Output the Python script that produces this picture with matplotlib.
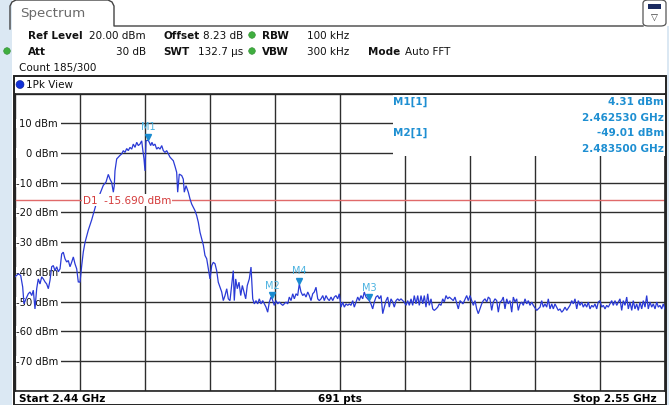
import matplotlib
matplotlib.use("Agg")
import matplotlib.pyplot as plt
from matplotlib.patches import Rectangle, FancyBboxPatch, Ellipse
from matplotlib.transforms import ScaledTranslation
import numpy as np

# ---------------- data ----------------
freq_mhz = [
    2440.00, 2440.56, 2440.96, 2441.30, 2441.52, 2441.86, 2442.25, 2442.54, 2442.83, 2443.10,
    2443.38, 2443.67, 2443.94, 2444.23, 2444.52, 2444.79, 2445.08, 2445.36, 2445.64, 2445.92,
    2446.21, 2446.48, 2446.77, 2447.06, 2447.33, 2447.62, 2447.90, 2448.17, 2448.46, 2448.75,
    2449.02, 2449.31, 2449.60, 2449.87, 2450.15, 2450.44, 2450.71, 2451.00, 2451.29, 2451.56,
    2451.85, 2452.40, 2452.98, 2453.54, 2453.83, 2454.38, 2454.67, 2454.94, 2455.40, 2455.79,
    2456.08, 2456.36, 2456.64, 2456.80, 2456.92, 2457.21, 2457.48, 2457.77, 2458.06, 2458.33,
    2458.62, 2458.90, 2459.17, 2459.46, 2459.75, 2460.02, 2460.31, 2460.60, 2460.87, 2461.15,
    2461.44, 2461.61, 2461.83, 2462.00, 2462.17, 2462.53, 2462.73, 2462.96, 2463.18, 2463.40,
    2463.69, 2463.98, 2464.25, 2464.54, 2464.83, 2465.10, 2465.38, 2465.67, 2465.94, 2466.23,
    2466.52, 2466.79, 2467.08, 2467.36, 2467.53, 2467.80, 2468.21, 2468.48, 2468.65, 2468.94,
    2469.33, 2469.62, 2469.90, 2470.17, 2470.46, 2470.75, 2471.02, 2471.31, 2471.87, 2472.15,
    2472.44, 2473.00, 2473.29, 2473.56, 2473.85, 2474.13, 2474.40, 2474.69, 2474.98, 2475.25,
    2475.54, 2475.83, 2476.10, 2476.38, 2476.67, 2476.94, 2477.11, 2477.35, 2477.62, 2477.91,
    2478.20, 2478.47, 2478.75, 2479.04, 2479.31, 2479.65, 2479.94, 2480.23, 2480.50, 2480.78,
    2481.07, 2481.34, 2481.63, 2481.92, 2482.19, 2482.48, 2482.76, 2483.04, 2483.32, 2483.50,
    2483.88, 2484.17, 2484.46, 2484.73, 2485.02, 2485.31, 2485.57, 2485.86, 2486.15, 2486.42,
    2486.71, 2487.00, 2487.27, 2487.56, 2487.84, 2488.11, 2488.40, 2488.69, 2488.96, 2489.25,
    2489.54, 2489.81, 2490.09, 2490.38, 2490.65, 2490.94, 2491.23, 2491.50, 2491.79, 2492.08,
    2492.35, 2492.63, 2492.92, 2493.19, 2493.48, 2493.77, 2494.04, 2494.32, 2494.61, 2494.88,
    2495.17, 2495.46, 2495.73, 2496.02, 2496.31, 2496.58, 2496.86, 2497.15, 2497.42, 2497.71,
    2498.00, 2498.27, 2498.55, 2498.84, 2499.11, 2499.40, 2499.69, 2499.96, 2500.24, 2500.53,
    2500.80, 2501.09, 2501.38, 2501.65, 2501.94, 2502.23, 2502.50, 2502.79, 2503.07, 2503.34,
    2503.63, 2503.92, 2504.19, 2504.48, 2504.76, 2505.03, 2505.32, 2505.61, 2505.88, 2506.17,
    2506.45, 2506.73, 2507.02, 2507.30, 2507.57, 2507.86, 2508.15, 2508.42, 2508.71, 2509.00,
    2509.27, 2509.55, 2509.84, 2510.11, 2510.40, 2510.69, 2510.96, 2511.25, 2511.53, 2511.80,
    2512.09, 2512.38, 2512.65, 2512.94, 2513.23, 2513.50, 2514.17, 2514.46, 2515.02, 2515.31,
    2515.81, 2516.44, 2516.71, 2517.00, 2517.29, 2517.56, 2517.85, 2518.13, 2518.40, 2518.69,
    2518.98, 2519.25, 2519.54, 2519.83, 2520.10, 2520.38, 2520.67, 2520.94, 2521.23, 2521.52,
    2521.79, 2522.08, 2522.37, 2522.63, 2522.92, 2523.21, 2523.48, 2523.77, 2524.06, 2524.33,
    2524.62, 2524.90, 2525.17, 2525.46, 2525.75, 2526.02, 2526.31, 2526.60, 2526.87, 2527.15,
    2527.44, 2527.71, 2528.29, 2528.85, 2529.13, 2529.40, 2529.69, 2529.98, 2530.25, 2530.54,
    2530.83, 2531.10, 2531.38, 2531.67, 2531.94, 2532.23, 2532.52, 2532.79, 2533.08, 2533.37,
    2533.92, 2534.21, 2534.48, 2534.77, 2535.06, 2535.33, 2535.62, 2535.90, 2536.17, 2536.46,
    2536.75, 2537.02, 2537.31, 2537.60, 2537.87, 2538.15, 2538.44, 2538.71, 2539.00, 2539.29,
    2539.56, 2539.85, 2540.13, 2540.40, 2540.69, 2540.98, 2541.25, 2541.54, 2541.83, 2542.10,
    2542.38, 2542.67, 2542.94, 2543.23, 2543.52, 2543.79, 2544.08, 2544.37, 2544.63, 2544.92,
    2545.21, 2545.48, 2545.77, 2546.06, 2546.33, 2546.62, 2546.90, 2547.17, 2547.46, 2547.75,
    2548.02, 2548.31, 2548.60, 2548.87, 2549.15, 2549.44, 2549.71, 2550.00,
]

level_dbm = [
    -41.7, -40.7, -41.2, -45.1, -50.8, -49.1, -47.4, -46.8, -48.0, -46.2,
    -52.5, -45.7, -42.4, -44.1, -41.7, -42.4, -43.4, -44.1, -45.7, -42.9,
    -38.3, -37.9, -39.6, -38.3, -40.0, -39.0, -34.0, -33.4, -35.6, -36.7,
    -36.2, -38.3, -36.7, -35.0, -37.3, -39.0, -43.4, -43.5, -37.9, -33.3,
    -30.1, -26.0, -22.5, -18.5, -16.5, -13.7, -12.3, -10.9, -9.8, -7.2,
    -8.8, -9.9, -13.2, -11.0, -6.0, -2.0, -1.4, -0.8, -0.3, 0.8,
    0.2, 1.5, 0.8, 1.9, 1.3, 3.0, 1.9, 3.6, 2.5, 3.0,
    4.1, 1.3, -2.0, -6.0, 4.1, 4.31, 3.6, 2.5, 3.6, 2.5,
    3.0, 1.3, 1.9, 1.3, 2.5, 0.8, 0.2, 0.8, -0.3, -1.4,
    -2.0, -2.6, -4.5, -6.5, -13.2, -7.1, -7.6, -8.8, -13.2, -11.0,
    -13.2, -15.5, -17.2, -18.3, -19.4, -21.1, -23.3, -26.7, -31.0, -34.5,
    -35.6, -42.4, -37.9, -36.8, -37.3, -39.6, -43.5, -45.2, -46.8, -49.7,
    -48.0, -45.7, -49.1, -49.7, -44.6, -39.6, -49.7, -42.4, -45.7, -43.5,
    -48.0, -44.6, -46.8, -49.1, -44.6, -42.4, -38.4, -49.1, -50.8, -49.7,
    -50.8, -49.1, -50.8, -49.7, -50.8, -51.9, -53.6, -50.2, -48.5, -49.01,
    -51.3, -49.7, -50.8, -50.2, -50.8, -51.3, -50.8, -50.2, -50.8, -48.5,
    -49.7, -47.4, -49.1, -47.4, -48.0, -44.1, -46.8, -48.0, -47.4, -48.5,
    -46.8, -48.0, -49.7, -47.4, -46.8, -45.2, -49.1, -49.7, -49.1, -48.0,
    -49.7, -48.0, -49.1, -49.7, -48.5, -49.7, -48.5, -48.0, -49.1, -47.4,
    -51.9, -50.2, -51.9, -50.8, -51.3, -50.8, -51.3, -49.7, -51.9, -50.2,
    -48.5, -49.7, -48.0, -49.1, -46.8, -48.5, -49.1, -49.7, -50.8, -52.5,
    -50.2, -48.5, -48.0, -49.1, -48.0, -54.1, -51.9, -49.7, -48.5, -51.9,
    -49.1, -50.2, -51.9, -49.7, -49.1, -49.7, -49.1, -49.7, -50.2, -51.3,
    -49.7, -51.3, -49.1, -51.3, -48.0, -50.8, -48.0, -51.3, -48.0, -50.8,
    -48.0, -51.9, -47.4, -51.3, -49.1, -52.5, -53.0, -52.5, -51.9, -50.8,
    -51.3, -49.1, -50.2, -48.0, -49.1, -48.5, -49.7, -48.5, -52.5, -49.7,
    -50.8, -48.0, -49.7, -48.0, -49.7, -51.3, -49.7, -52.5, -54.1, -52.5,
    -50.8, -49.7, -49.1, -50.2, -48.5, -49.1, -53.0, -50.2, -49.1, -49.7,
    -53.6, -50.2, -49.7, -48.5, -52.5, -49.1, -50.8, -49.7, -53.6, -48.5,
    -50.2, -49.1, -53.0, -50.8, -50.2, -51.3, -49.1, -50.8, -49.7, -51.3,
    -50.2, -51.3, -53.0, -51.9, -49.7, -51.9, -50.8, -51.9, -49.1, -52.5,
    -50.8, -52.5, -50.8, -51.9, -53.0, -52.5, -53.6, -53.0, -51.9, -53.0,
    -51.3, -49.7, -50.8, -49.1, -52.5, -49.7, -51.3, -50.2, -51.9, -50.8,
    -51.9, -50.2, -52.5, -51.3, -51.9, -50.8, -52.5, -50.2, -49.7, -51.9,
    -51.3, -52.5, -51.3, -51.9, -50.8, -49.7, -51.3, -49.7, -51.3, -50.2,
    -49.1, -53.0, -49.7, -51.3, -48.5, -52.5, -50.2, -53.0, -49.7, -52.5,
    -50.8, -53.0, -50.2, -52.5, -49.7, -51.9, -48.0, -52.5, -50.2, -51.9,
    -50.8, -52.5, -50.2, -51.9, -51.3, -52.5, -50.8, -52.5,
]

display_line_dbm = -15.690
marker_names = ["M1", "M2", "M3", "M4"]
marker_freq_mhz = [2462.53, 2483.50, 2499.96, 2488.11]
marker_level_dbm = [4.31, -49.01, -49.7, -44.1]

y_ticks_dbm = [10, 0, -10, -20, -30, -40, -50, -60, -70]
x_start_mhz, x_stop_mhz = 2440.0, 2550.0
y_bottom, y_top = -80, 20

# ---------------- figure ----------------
W, H = 669, 406
fig = plt.figure(figsize=(W / 100, H / 100), dpi=100)
fig.patch.set_facecolor("white")

def fx(x):
    return x / W

def fy(y):
    return 1 - y / H

BLUE_TXT = "#1E8FD2"
FS = 7.5

# left / right decorative strips
fig.patches.append(Rectangle((0, 0), fx(12), 1, transform=fig.transFigure,
                             facecolor="#dbe8f3", edgecolor="none", zorder=-3))
fig.patches.append(Rectangle((fx(666.5), 0), fx(2.5), fy(27), transform=fig.transFigure,
                             facecolor="#dbe8f3", edgecolor="none", zorder=-3))

# Spectrum tab outline
tab_x = [10, 10, 12, 16, 108, 112, 114, 114, 643]
tab_y = [30, 7, 3, 1, 1, 3, 7, 27, 27]
fig.lines.append(plt.Line2D([fx(v) for v in tab_x], [fy(v) for v in tab_y],
                            transform=fig.transFigure, color="#444444", lw=1.0))
fig.text(fx(20), fy(14), "Spectrum", fontsize=9.6, color="#6a6a6a", va="center", ha="left")

# right icon
fig.patches.append(FancyBboxPatch((fx(643), fy(27)), fx(23), fy(1) - fy(27),
                                  boxstyle="round,pad=0,rounding_size=0.008",
                                  transform=fig.transFigure, facecolor="white",
                                  edgecolor="#555555", lw=0.9))
fig.patches.append(Rectangle((fx(648), fy(10)), fx(13), fy(5) - fy(10), transform=fig.transFigure,
                             facecolor="#1a2a60", edgecolor="none"))
fig.text(fx(654.5), fy(18), "\u25BD", fontsize=6.5, color="#333333", ha="center", va="center")

# header rows
def hdr(x, y, s, bold=False, ha="left"):
    fig.text(fx(x), fy(y), s, fontsize=FS, weight="bold" if bold else "normal",
             ha=ha, va="center", color="#111111")

hdr(28, 36, "Ref Level", True)
hdr(146, 36, "20.00 dBm", ha="right")
hdr(163, 36, "Offset", True)
hdr(243, 36, "8.23 dB", ha="right")
hdr(262, 36, "RBW", True)
hdr(307, 36, "100 kHz")
hdr(28, 52, "Att", True)
hdr(146, 52, "30 dB", ha="right")
hdr(163, 52, "SWT", True)
hdr(243, 52, "132.7 \u00b5s", ha="right")
hdr(262, 52, "VBW", True)
hdr(307, 52, "300 kHz")
hdr(368, 52, "Mode", True)
hdr(405, 52, "Auto FFT")
hdr(19, 68, "Count 185/300")

def dot(cx, cy, r, fc, ec):
    fig.patches.append(Ellipse((fx(cx), fy(cy)), 2 * r / W, 2 * r / H, transform=fig.transFigure,
                               facecolor=fc, edgecolor=ec, lw=0.4, zorder=6))

for (cx, cy) in [(252, 36), (7, 52), (252, 52)]:
    dot(cx, cy, 3.3, "#3fae3f", "#2c8a2c")

# view frame
fig.patches.append(Rectangle((fx(14), fy(406)), fx(652), fy(77) - fy(406), transform=fig.transFigure,
                             facecolor="none", edgecolor="#222222", lw=1.4, zorder=5))
dot(20, 85.5, 4.0, "#1030d8", "#0a1a90")
fig.text(fx(26), fy(85.5), "1Pk View", fontsize=FS, va="center", ha="left", color="#111111")

# bottom row
fig.text(fx(19), fy(399.5), "Start 2.44 GHz", fontsize=FS, weight="bold", va="center", ha="left")
fig.text(fx(340), fy(399.5), "691 pts", fontsize=FS, weight="bold", va="center", ha="center")
fig.text(fx(657), fy(399.5), "Stop 2.55 GHz", fontsize=FS, weight="bold", va="center", ha="right")

# ---------------- main axes ----------------
ax_top, ax_bot = 94.6, 391.6
ax = fig.add_axes([fx(15), fy(ax_bot), fx(650), (ax_bot - ax_top) / H])
ax.set_zorder(1)
ax.set_xlim(x_start_mhz, x_stop_mhz)
ax.set_ylim(y_bottom, y_top)
ax.set_xticks(np.linspace(x_start_mhz, x_stop_mhz, 11))
ax.set_yticks(np.arange(y_bottom, y_top + 1, 10))
ax.tick_params(length=0, labelbottom=False, labelleft=False)
ax.grid(True, color="#2e2e2e", lw=1.0)
for s in ax.spines.values():
    s.set_color("#222222")
    s.set_linewidth(1.2)

# y labels (white band hides the grid line left of each label)
ytr = ax.get_yaxis_transform()
lab_right = (58 - 15) / 650
for v in y_ticks_dbm:
    ax.add_patch(Rectangle((0.002, v - 1.6), lab_right + 0.002, 3.2, transform=ytr,
                           facecolor="white", edgecolor="none", zorder=1.9))
    ax.text(lab_right, v, f"{v} dBm", transform=ytr, ha="right", va="center",
            fontsize=7.2, color="#111111", zorder=2)

# display line D1
ax.axhline(display_line_dbm, color="#e06a6a", lw=1.0, zorder=2.2)
ax.text(x_start_mhz + (83 - 15) / 650 * (x_stop_mhz - x_start_mhz), display_line_dbm,
        f"D1  {display_line_dbm:.3f} dBm", fontsize=FS, color="#d43a3a", ha="left", va="center",
        zorder=4, bbox=dict(boxstyle="square,pad=0.1", facecolor="white", edgecolor="none"))

# trace
ax.plot(freq_mhz, level_dbm, color="#2a3ad6", lw=0.9, zorder=3, solid_joinstyle="miter")

# markers
off = ScaledTranslation(0, 3.3 / 100, fig.dpi_scale_trans)
ax.plot(marker_freq_mhz, marker_level_dbm, linestyle="none", marker="v", ms=5,
        color="#1a8cd0", transform=ax.transData + off, zorder=5)
for n, f, l in zip(marker_names, marker_freq_mhz, marker_level_dbm):
    ax.annotate(n, (f, l), xytext=(0, 14), textcoords="offset pixels", ha="center",
                va="center", fontsize=7, color="#4ab2e0", zorder=5)

# marker table (white box over the grid)
ax.add_patch(Rectangle((fx(393), fy(157)), fx(665) - fx(393), fy(95.5) - fy(157),
                       transform=fig.transFigure, facecolor="white", edgecolor="none", zorder=4))
tbl = [("M1[1]", f"{marker_level_dbm[0]:.2f} dBm", f"{marker_freq_mhz[0] / 1000:.6f} GHz", 102),
       ("M2[1]", f"{marker_level_dbm[1]:.2f} dBm", f"{marker_freq_mhz[1] / 1000:.6f} GHz", 133)]
for name, lvl, frq, yy in tbl:
    ax.text(fx(393), fy(yy), name, transform=fig.transFigure, fontsize=FS, color=BLUE_TXT,
            weight="bold", ha="left", va="center", zorder=6)
    ax.text(fx(664), fy(yy), lvl, transform=fig.transFigure, fontsize=FS, color=BLUE_TXT,
            weight="bold", ha="right", va="center", zorder=6)
    ax.text(fx(664), fy(yy + 16), frq, transform=fig.transFigure, fontsize=FS, color=BLUE_TXT,
            weight="bold", ha="right", va="center", zorder=6)

fig.savefig("out.png", dpi=100)
